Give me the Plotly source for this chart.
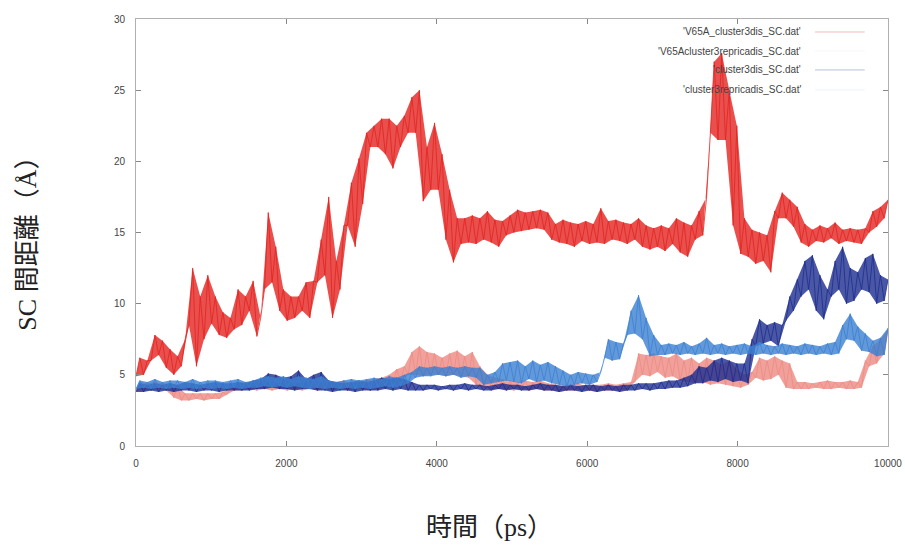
import numpy as np
import plotly.graph_objects as go

# Side-chain distance traces, 0-10000 ps, summarised as the low / high value
# reached in each 100 ps window (100 windows per run).
v65a_lo = [4.9, 5.0, 6.0, 6.4, 5.5, 5.0, 5.6, 8.5, 5.6, 7.5,
           8.6, 7.8, 7.6, 8.2, 8.5, 9.5, 7.7, 11.0, 11.5, 9.5,
           8.8, 9.0, 9.5, 9.0, 11.5, 12.0, 9.0, 11.0, 15.5, 14.0,
           17.0, 21.0, 21.0, 20.5, 19.5, 21.0, 22.0, 22.0, 17.2, 18.0,
           18.0, 14.5, 12.9, 14.2, 14.3, 14.2, 14.5, 14.3, 14.0, 14.8,
           15.0, 15.1, 15.2, 15.3, 15.2, 14.5, 14.3, 14.2, 14.0, 14.4,
           14.2, 14.3, 14.2, 14.5, 14.4, 14.2, 14.5, 14.0, 13.8, 14.0,
           13.7, 14.2, 13.6, 13.3, 14.5, 14.8, 22.0, 21.5, 21.5, 15.5,
           13.5, 13.3, 12.8, 13.0, 12.2, 16.0, 16.0, 15.4, 14.3, 14.0,
           14.4, 14.3, 14.6, 14.2, 14.4, 14.3, 14.2, 15.0, 15.4, 16.0]
v65a_hi = [6.2, 6.0, 7.8, 7.4, 6.8, 6.3, 7.5, 12.5, 10.5, 12.0,
           10.5, 9.4, 9.0, 11.0, 10.5, 11.6, 9.0, 16.4, 14.0, 11.0,
           10.5, 10.5, 11.5, 11.6, 14.5, 17.5, 13.0, 15.5, 18.5, 20.2,
           22.0, 22.5, 23.0, 23.0, 22.5, 23.2, 24.5, 25.0, 21.0, 22.7,
           20.5, 18.0, 16.0, 16.0, 16.2, 16.0, 16.5, 15.9, 15.8, 16.2,
           16.6, 16.4, 16.5, 16.6, 16.4, 15.6, 15.9, 15.7, 15.6, 15.8,
           15.6, 16.7, 15.8, 15.9, 15.7, 15.6, 16.0, 15.5, 15.3, 15.5,
           15.3, 16.0, 15.7, 15.5, 16.5, 17.5, 27.0, 27.6, 25.0, 22.5,
           16.0, 15.2, 15.0, 14.8, 16.5, 17.8, 17.3, 16.8, 15.6, 15.2,
           15.5, 15.3, 15.7, 15.2, 15.3, 15.2, 15.3, 16.5, 16.8, 17.3]

v65a_rep_lo = [3.9, 3.9, 3.9, 4.0, 3.9, 3.4, 3.2, 3.2, 3.3, 3.2,
               3.3, 3.3, 3.6, 3.9, 3.9, 4.0, 3.9, 4.0, 3.9, 4.0,
               3.9, 4.0, 3.9, 4.0, 3.9, 4.0, 3.9, 4.0, 3.9, 4.0,
               4.0, 3.9, 4.0, 4.1, 4.4, 4.5, 5.0, 5.0, 4.9, 5.0,
               5.0, 4.9, 5.0, 4.9, 4.8, 4.3, 4.1, 4.0, 4.0, 4.0,
               3.9, 4.0, 3.9, 4.0, 3.9, 3.9, 3.8, 3.9, 3.9, 3.9,
               3.9, 3.8, 3.9, 3.9, 3.9, 3.9, 4.5, 5.0, 4.9, 5.2,
               4.8, 4.9, 4.6, 4.5, 4.4, 4.5, 4.3, 4.4, 4.3, 4.2,
               4.1, 4.3, 4.8, 4.6, 4.7, 5.0, 4.1, 4.0, 4.0, 4.0,
               4.1, 4.0, 4.0, 4.1, 4.0, 4.0, 4.1, 5.6, 5.8, 6.5]
v65a_rep_hi = [4.5, 4.4, 4.5, 4.4, 4.4, 4.2, 3.7, 3.7, 3.7, 3.7,
               3.7, 3.8, 4.1, 4.4, 4.5, 4.4, 4.6, 4.5, 4.4, 4.6,
               4.5, 4.4, 4.5, 4.6, 4.4, 4.5, 4.5, 4.6, 4.4, 4.5,
               4.6, 4.7, 4.8, 5.0, 5.4, 5.6, 6.6, 7.0, 6.6, 6.5,
               6.2, 6.5, 6.7, 6.3, 6.6, 5.6, 5.0, 4.8, 4.7, 4.6,
               4.5, 4.6, 4.5, 4.6, 4.4, 4.3, 4.3, 4.3, 4.4, 4.2,
               4.3, 4.3, 4.4, 4.3, 4.4, 4.5, 6.5, 6.4, 6.5, 6.3,
               6.2, 6.5, 6.0, 6.2, 5.8, 6.2, 6.0, 5.7, 6.0, 5.4,
               5.0, 5.2, 6.2, 6.0, 6.3, 6.0, 5.8, 4.5, 4.5, 4.4,
               4.5, 4.6, 4.5, 4.5, 4.6, 4.5, 6.0, 7.0, 7.5, 8.2]

c3_lo = [3.8, 3.8, 3.9, 3.8, 3.9, 3.8, 3.9, 3.9, 3.8, 3.9,
         3.9, 3.8, 3.9, 3.9, 3.9, 3.9, 4.0, 4.0, 4.1, 4.0,
         4.0, 3.9, 4.0, 4.0, 3.9, 3.9, 3.8, 3.9, 3.9, 3.8,
         3.9, 3.9, 3.9, 4.0, 3.9, 4.0, 3.9, 3.9, 3.9, 4.0,
         3.9, 4.0, 3.9, 4.0, 3.9, 4.0, 3.9, 3.9, 4.0, 3.9,
         4.0, 3.9, 3.9, 4.0, 3.9, 3.9, 3.8, 3.9, 3.9, 3.8,
         3.9, 3.8, 3.9, 3.9, 3.8, 3.9, 3.9, 4.0, 3.9, 4.0,
         4.0, 4.1, 4.1, 4.2, 4.4, 4.4, 4.6, 4.5, 4.7, 4.5,
         4.6, 4.4, 7.0, 7.2, 7.4, 7.0, 8.8, 9.5, 10.5, 11.0,
         9.5, 8.9, 10.5, 11.0, 10.0, 10.2, 11.0, 10.8, 10.0, 10.2]
c3_hi = [4.4, 4.3, 4.4, 4.3, 4.4, 4.3, 4.5, 4.4, 4.3, 4.4,
         4.5, 4.4, 4.4, 4.5, 4.4, 4.6, 4.7, 5.1, 5.0, 4.8,
         4.9, 5.3, 4.7, 5.0, 5.2, 4.6, 4.5, 4.4, 4.5, 4.6,
         4.5, 4.6, 4.8, 4.7, 4.8, 4.7, 4.5, 4.3, 4.3, 4.3,
         4.2, 4.3, 4.3, 4.4, 4.3, 4.3, 4.2, 4.3, 4.4, 4.3,
         4.3, 4.2, 4.3, 4.4, 4.3, 4.3, 4.2, 4.3, 4.2, 4.3,
         4.3, 4.2, 4.3, 4.2, 4.3, 4.3, 4.4, 4.4, 4.4, 4.5,
         4.6, 4.6, 4.8, 5.0, 5.6, 5.5, 6.0, 6.2, 6.0, 5.8,
         5.8, 7.5, 8.9, 8.5, 8.7, 8.5, 10.5, 11.7, 13.0, 13.4,
         12.0, 11.0, 13.0, 14.0, 12.5, 12.2, 13.2, 13.5, 12.0, 11.7]

c3_rep_lo = [4.0, 4.1, 4.0, 4.1, 4.0, 4.1, 4.0, 4.1, 4.0, 4.1,
             4.0, 4.1, 4.0, 4.1, 4.0, 4.1, 4.1, 4.2, 4.1, 4.2,
             4.1, 4.2, 4.1, 4.0, 4.1, 4.0, 4.1, 4.0, 4.1, 4.0,
             4.1, 4.0, 4.1, 4.2, 4.1, 4.2, 4.4, 4.8, 4.9, 4.9,
             5.0, 4.9, 5.0, 4.8, 4.9, 4.8, 4.3, 4.4, 4.5, 4.6,
             4.5, 4.4, 4.7, 4.5, 4.6, 4.4, 4.3, 4.2, 4.3, 4.4,
             4.3, 4.5, 6.2, 6.0, 6.1, 7.8, 7.9, 7.5, 6.3, 6.4,
             6.4, 6.5, 6.4, 6.5, 6.4, 6.5, 6.4, 6.5, 6.4, 6.5,
             6.4, 6.5, 6.4, 6.5, 6.4, 6.5, 6.4, 6.5, 6.4, 6.5,
             6.4, 6.5, 6.4, 6.5, 7.5, 7.4, 6.7, 6.6, 6.3, 6.4]
c3_rep_hi = [4.6, 4.5, 4.7, 4.5, 4.6, 4.6, 4.5, 4.7, 4.5, 4.6,
             4.6, 4.5, 4.6, 4.7, 4.5, 4.6, 4.8, 4.9, 4.8, 4.9,
             4.7, 4.9, 4.8, 4.7, 4.9, 4.6, 4.5, 4.6, 4.7, 4.6,
             4.7, 4.8, 4.7, 4.9, 4.8, 5.0, 5.2, 5.6, 5.5, 5.6,
             5.5, 5.6, 5.5, 5.6, 5.5, 5.5, 5.0, 5.2, 5.8, 5.9,
             6.0, 5.6, 6.0, 5.7, 5.9, 5.6, 5.3, 5.0, 5.2, 5.1,
             5.0, 5.2, 7.5, 7.3, 7.2, 9.5, 10.6, 9.0, 7.8, 7.1,
             7.2, 7.1, 7.3, 7.0, 7.2, 7.6, 7.1, 7.2, 7.0, 7.1,
             7.2, 7.0, 7.3, 7.1, 7.0, 7.2, 7.1, 7.0, 7.2, 7.1,
             7.0, 7.2, 7.3, 8.5, 9.3, 8.4, 7.9, 7.4, 7.6, 8.3]

names = ["'V65A_cluster3dis_SC.dat'", "'V65Acluster3repricadis_SC.dat'",
         "'cluster3dis_SC.dat'", "'cluster3repricadis_SC.dat'"]
colors = ["#e3231f", "#ee8a82", "#1d2d8e", "#3b80d2"]
x_ticks = [0, 2000, 4000, 6000, 8000, 10000]
y_ticks = [0, 5, 10, 15, 20, 25, 30]


def trace_points(lo, hi):
    # alternate window minimum and maximum so the trace zigzags through each window
    vals = np.empty(2 * len(lo))
    vals[0::2] = lo
    vals[1::2] = hi
    t = np.linspace(0, 10000, len(vals))
    return t, vals


fig = go.Figure()
for (lo, hi), name, col in zip([(v65a_lo, v65a_hi), (v65a_rep_lo, v65a_rep_hi),
                                (c3_lo, c3_hi), (c3_rep_lo, c3_rep_hi)], names, colors):
    t, v = trace_points(lo, hi)
    t_lo, t_hi = t[0::2], t[1::2]
    # shaded low/high envelope gives the dense look of the fluctuating trace
    fig.add_trace(go.Scatter(x=np.concatenate([t_lo, t_hi[::-1]]),
                             y=np.concatenate([np.asarray(lo), np.asarray(hi)[::-1]]),
                             mode="lines", fill="toself", fillcolor=col, opacity=0.8,
                             line=dict(width=0), hoverinfo="skip", showlegend=False))
    fig.add_trace(go.Scatter(x=t, y=v, mode="lines", name=name,
                             line=dict(color=col, width=0.8), showlegend=False))

# key in the gnuplot style: right-aligned label followed by a short line sample
legend_font = dict(family="Liberation Sans, Arial, sans-serif", size=10, color="#444")
row_y = [0.9696, 0.925, 0.8807, 0.834]
sample_alpha = [0.3, 0.08, 0.3, 0.08]
for name, col, yy, a in zip(names, colors, row_y, sample_alpha):
    fig.add_annotation(x=0.887, y=yy, xref="paper", yref="paper", text=name,
                       showarrow=False, xanchor="right", yanchor="middle", font=legend_font)
    fig.add_shape(type="line", xref="paper", yref="paper", x0=0.903, x1=0.969,
                  y0=yy, y1=yy, line=dict(color=col, width=1), opacity=a)

title_font = dict(family="Liberation Serif, Noto Sans CJK JP, serif", size=26, color="#222")
fig.add_annotation(x=0.47, y=-0.192, xref="paper", yref="paper", text="時間（ps）",
                   showarrow=False, xanchor="center", yanchor="middle", font=title_font)
fig.add_annotation(x=-0.1436, y=0.488, xref="paper", yref="paper", text="SC 間距離（Å）",
                   textangle=-90, showarrow=False, xanchor="center", yanchor="middle",
                   font=title_font)

axis_common = dict(showgrid=False, zeroline=False, showline=True, linecolor="#b0b0b0",
                   linewidth=1, mirror="ticks", ticks="inside", ticklen=5,
                   tickcolor="#888", tickwidth=1, ticklabelstandoff=8, automargin=False,
                   tickfont=dict(family="Liberation Sans, Arial, sans-serif", size=10,
                                 color="#444"))
fig.update_xaxes(range=[0, 10000], tickvals=x_ticks,
                 ticktext=[str(v) for v in x_ticks], **axis_common)
fig.update_yaxes(range=[0, 30], tickvals=y_ticks,
                 ticktext=[str(v) for v in y_ticks], **axis_common)

fig.update_layout(width=905, height=547, margin=dict(l=136, r=17, t=19, b=101),
                  plot_bgcolor="white", paper_bgcolor="white")

fig.write_html("out.html")
